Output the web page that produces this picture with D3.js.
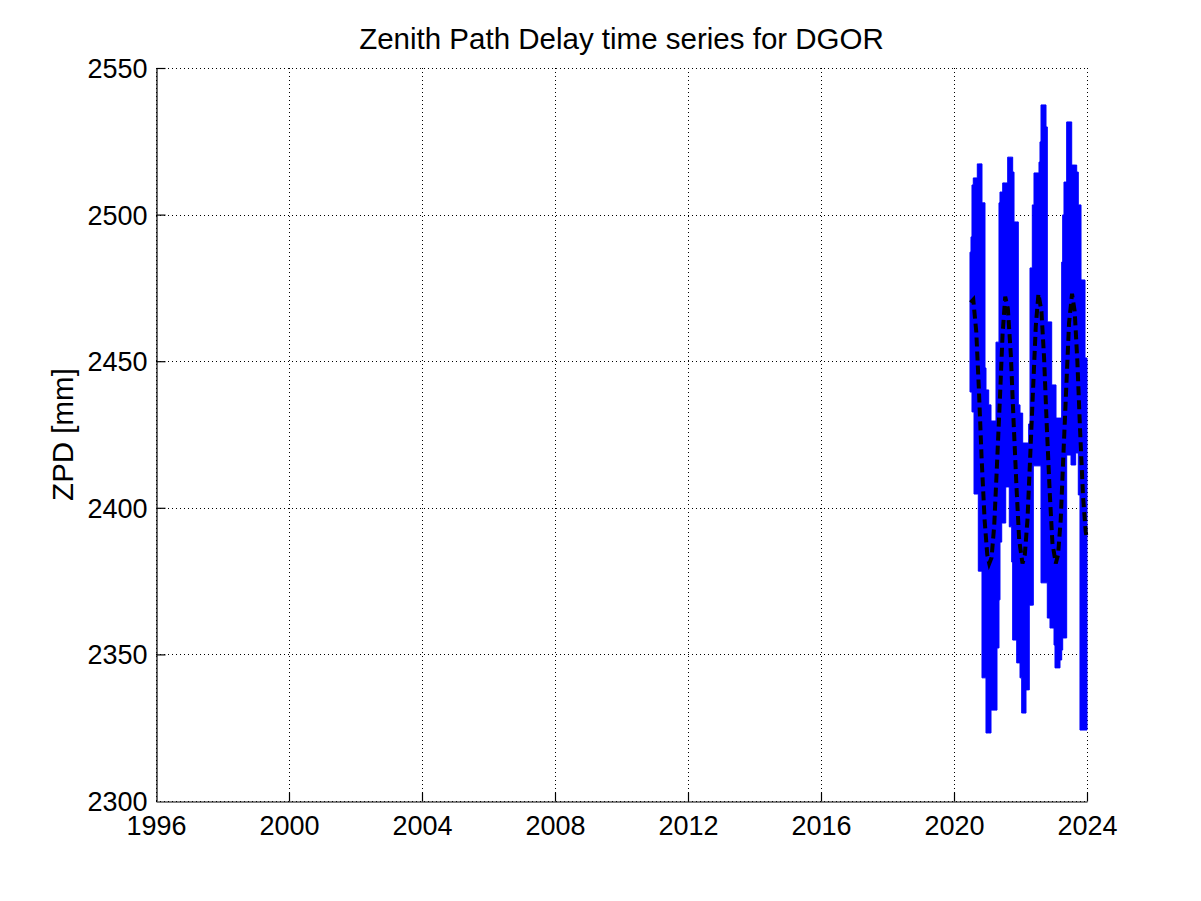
<!DOCTYPE html>
<html>
<head>
<meta charset="utf-8">
<script src="https://cdn.jsdelivr.net/npm/d3@7"></script>
<style>
  html, body { margin: 0; padding: 0; background: #fff; }
  svg { display: block; }
  text { font-family: "Liberation Sans", Arial, Helvetica, sans-serif; fill: #000; }
</style>
</head>
<body>
<svg id="chart" width="1201" height="901"></svg>
<script>
// ---------- data ----------
const chartTitle = "Zenith Path Delay time series for DGOR";
const yLabel = "ZPD [mm]";
const xTicks = [1996, 2000, 2004, 2008, 2012, 2016, 2020, 2024];
const yTicks = [2300, 2350, 2400, 2450, 2500, 2550];

// ZPD series (dense daily data) read as upper / lower envelope per short time bin
const zpdTime = [2020.481, 2020.511, 2020.541, 2020.580, 2020.602, 2020.701, 2020.731, 2020.842,
  2020.932, 2020.962, 2021.044, 2021.113, 2021.263, 2021.293, 2021.353, 2021.383, 2021.435,
  2021.465, 2021.555, 2021.615, 2021.663, 2021.735, 2021.765, 2021.805, 2021.886, 2021.934,
  2021.985, 2022.036, 2022.066, 2022.165, 2022.246, 2022.264, 2022.286, 2022.355, 2022.385,
  2022.406, 2022.556, 2022.586, 2022.617, 2022.767, 2022.806, 2022.887, 2022.938, 2023.008,
  2023.038, 2023.068, 2023.188, 2023.239, 2023.269, 2023.308, 2023.389, 2023.519, 2023.540,
  2023.660, 2023.690, 2023.738, 2023.789, 2023.820, 2023.940];
const zpdMax = [2487.2, 2492.4, 2510.1, 2512.5, 2512.5, 2517.3, 2517.3, 2504.0,
  2447.7, 2440.2, 2435.1, 2429.6, 2456.5, 2456.5, 2504.0, 2507.7, 2507.7,
  2510.8, 2510.8, 2519.6, 2519.6, 2519.6, 2514.5, 2497.5, 2497.5, 2435.1,
  2432.3, 2432.3, 2422.1, 2422.1, 2428.6, 2428.6, 2481.8, 2503.3, 2503.3,
  2514.2, 2517.9, 2524.8, 2537.4, 2529.9, 2463.4, 2463.4, 2441.9, 2441.9,
  2441.9, 2430.6, 2430.6, 2483.8, 2499.9, 2511.1, 2531.6, 2531.6, 2516.9,
  2516.9, 2514.5, 2503.3, 2503.3, 2477.7, 2451.1];
const zpdMin = [2439.5, 2439.5, 2432.7, 2432.7, 2404.7, 2404.7, 2378.4, 2342.0,
  2342.0, 2323.2, 2323.2, 2331.0, 2331.0, 2352.2, 2368.6, 2388.3, 2394.8,
  2394.8, 2407.1, 2407.1, 2393.5, 2381.5, 2354.9, 2354.9, 2347.1, 2347.1,
  2342.0, 2330.0, 2330.0, 2337.9, 2337.9, 2366.8, 2366.8, 2366.8, 2414.3,
  2414.3, 2414.3, 2414.3, 2374.4, 2374.4, 2362.4, 2359.0, 2359.0, 2353.2,
  2345.4, 2345.4, 2348.1, 2351.5, 2355.6, 2355.6, 2418.0, 2414.6, 2414.6,
  2418.7, 2418.7, 2404.4, 2324.2, 2324.2, 2324.2];
const zpdEnd = 2024.0;

// seasonal fit (black dashed)
const fitTime = [2020.50, 2020.58, 2020.67, 2020.75, 2020.83, 2020.92, 2021.00, 2021.06, 2021.13,
  2021.21, 2021.29, 2021.38, 2021.46, 2021.54, 2021.62, 2021.71, 2021.79, 2021.88, 2021.96,
  2022.06, 2022.13, 2022.21, 2022.29, 2022.38, 2022.46, 2022.54, 2022.63, 2022.71, 2022.79,
  2022.88, 2022.96, 2023.06, 2023.13, 2023.21, 2023.29, 2023.38, 2023.46, 2023.55, 2023.63,
  2023.71, 2023.79, 2023.88, 2023.96, 2024.00];
const fitZpd = [2470, 2471, 2460, 2440, 2417, 2396, 2384, 2381, 2383,
  2394, 2414, 2437, 2459, 2472, 2468, 2452, 2430, 2407, 2389,
  2381, 2384, 2396, 2417, 2441, 2462, 2473, 2467, 2451, 2428,
  2405, 2388, 2381, 2384, 2396, 2418, 2442, 2463, 2473, 2467,
  2450, 2427, 2404, 2392, 2389];

// ---------- layout ----------
const plotL = 156, plotR = 1087, plotT = 68, plotB = 801;
const svg = d3.select("#chart");
svg.append("rect").attr("width", 1201).attr("height", 901).attr("fill", "#fff");

const x = d3.scaleLinear().domain([1996, 2024]).range([plotL, plotR]);
const y = d3.scaleLinear().domain([2300, 2550]).range([plotB, plotT]);

// grid
const grid = svg.append("g").attr("stroke", "#000").attr("stroke-width", 1)
  .attr("stroke-dasharray", "1,3").attr("shape-rendering", "crispEdges");
xTicks.forEach(t => {
  grid.append("line").attr("x1", Math.round(x(t)) + 0.5).attr("x2", Math.round(x(t)) + 0.5)
    .attr("y1", plotT).attr("y2", plotB);
});
yTicks.forEach(t => {
  grid.append("line").attr("y1", Math.round(y(t)) + 0.5).attr("y2", Math.round(y(t)) + 0.5)
    .attr("x1", plotL).attr("x2", plotR);
});

// ZPD envelope series
const bins = zpdTime.map((t, i) => ({ t, hi: zpdMax[i], lo: zpdMin[i] }));
bins.push({ t: zpdEnd, hi: zpdMax[zpdMax.length - 1], lo: zpdMin[zpdMin.length - 1] });
const area = d3.area().curve(d3.curveStepAfter)
  .x(d => x(d.t)).y0(d => y(d.lo)).y1(d => y(d.hi));
svg.append("path").datum(bins).attr("d", area).attr("fill", "#0000ff")
  .attr("stroke", "#0000ff").attr("stroke-width", 1);

// seasonal fit dashed line
const fit = fitTime.map((t, i) => ({ t, v: fitZpd[i] }));
const line = d3.line().x(d => x(d.t)).y(d => y(d.v));
svg.append("path").datum(fit).attr("d", line).attr("fill", "none")
  .attr("stroke", "#000").attr("stroke-width", 4).attr("stroke-dasharray", "9,5");

// axes
const xAxis = d3.axisBottom(x).tickValues(xTicks).tickFormat(d3.format("d"))
  .tickSizeInner(-9).tickSizeOuter(0).tickPadding(16);
const gx = svg.append("g").attr("transform", `translate(0,${plotB + 0.5})`).call(xAxis);
const yAxis = d3.axisLeft(y).tickValues(yTicks).tickFormat(d3.format("d"))
  .tickSizeInner(-9).tickSizeOuter(0).tickPadding(9);
const gy = svg.append("g").attr("transform", `translate(${plotL + 0.5},0)`).call(yAxis);
[gx, gy].forEach(g => {
  g.select(".domain").attr("stroke", "#000").attr("stroke-width", 1.2);
  g.selectAll(".tick line").attr("stroke", "#000").attr("stroke-width", 1.2);
  g.selectAll(".tick text").attr("font-size", 27)
    .attr("font-family", '"Liberation Sans", Arial, Helvetica, sans-serif').attr("fill", "#000");
});
gx.selectAll(".tick").filter(d => d === 1996).select("line").remove();
gy.selectAll(".tick").filter(d => d === 2300).select("line").remove();
gx.selectAll(".tick text").attr("dy", "0.71em").attr("y", 14);
gy.selectAll(".tick text").attr("x", -9).attr("dy", "0.35em");

// title
svg.append("text").attr("x", (plotL + plotR) / 2).attr("y", 49).attr("text-anchor", "middle")
  .attr("font-size", 29.5).text(chartTitle);
// y label
svg.append("text").attr("transform", `translate(73,${(plotT + plotB) / 2}) rotate(-90)`)
  .attr("text-anchor", "middle").attr("font-size", 29.5).text(yLabel);
</script>
</body>
</html>
